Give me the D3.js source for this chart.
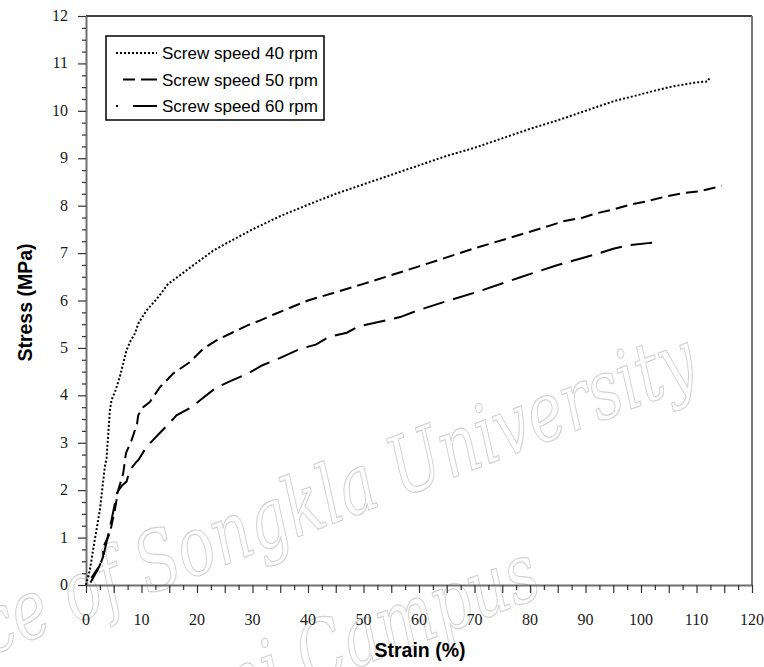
<!DOCTYPE html>
<html>
<head>
<meta charset="utf-8">
<script src="https://cdn.jsdelivr.net/npm/d3@7"></script>
<style>
  html, body { margin: 0; padding: 0; background: #fff; }
  svg { display: block; }
</style>
</head>
<body>
<svg id="chart" width="764" height="667"></svg>
<script>
// Stress-strain curves for three screw speeds
const seriesNames = ["Screw speed 40 rpm", "Screw speed 50 rpm", "Screw speed 60 rpm"];

const strain40 = [0, 0.7, 1.5, 2.5, 3.4, 3.7, 4.3, 4.6, 5.3, 6.1, 7.3, 7.9, 8.8, 9.4, 10.9, 13, 14.8, 16.9, 19.3, 22.9, 26, 30, 35, 40, 45, 50, 55, 60, 65, 70, 75, 80, 85, 90, 95, 100, 105, 110, 112, 112.5];
const stress40 = [0, 0.32, 0.9, 1.58, 2.5, 2.67, 3.68, 3.9, 4.1, 4.39, 4.95, 5.12, 5.3, 5.51, 5.79, 6.07, 6.35, 6.53, 6.74, 7.05, 7.25, 7.5, 7.78, 8.02, 8.25, 8.45, 8.65, 8.85, 9.05, 9.22, 9.42, 9.62, 9.8, 10.0, 10.2, 10.35, 10.5, 10.6, 10.62, 10.72];

const strain50 = [1.0, 2.5, 3.1, 3.1, 4.3, 5.2, 5.8, 6.7, 7.2, 8.2, 9.2, 9.4, 10.3, 11.5, 13.3, 15.7, 18.7, 21.1, 23.5, 26.5, 29, 31.4, 33.7, 40, 50, 60, 70, 80, 83.6, 86, 89.6, 92, 95, 98, 101, 104, 107.3, 110.3, 113.6, 114.5];
const stress50 = [0.15, 0.42, 0.6, 0.8, 1.09, 1.58, 2.0, 2.35, 2.78, 3.05, 3.4, 3.58, 3.75, 3.86, 4.17, 4.46, 4.7, 4.98, 5.16, 5.33, 5.47, 5.58, 5.7, 6.0, 6.35, 6.72, 7.1, 7.45, 7.58, 7.67, 7.75, 7.84, 7.92, 8.02, 8.09, 8.18, 8.26, 8.3, 8.39, 8.42];

const strain60 = [0.8, 2, 3, 3.7, 4.6, 5.2, 5.6, 6.5, 7.3, 7.9, 9.1, 9.4, 10.9, 11.2, 13.9, 15.7, 16.3, 19, 20.5, 23.2, 25.6, 29.2, 31.7, 35, 38.6, 41.4, 43.7, 47, 49, 52.5, 56.6, 60, 64, 71, 78, 85, 89, 92, 95, 97.4, 101.3, 102];
const stress60 = [0.05, 0.3, 0.55, 0.9, 1.37, 1.72, 1.95, 2.1, 2.18, 2.42, 2.6, 2.63, 2.91, 2.95, 3.28, 3.5, 3.58, 3.75, 3.89, 4.14, 4.28, 4.46, 4.63, 4.79, 4.98, 5.07, 5.23, 5.32, 5.45, 5.54, 5.65, 5.8, 5.95, 6.2, 6.48, 6.75, 6.88, 6.98, 7.09, 7.16, 7.21, 7.22];

const xTickLabels = [0, 10, 20, 30, 40, 50, 60, 70, 80, 90, 100, 110, 120];
const yTickLabels = [0, 1, 2, 3, 4, 5, 6, 7, 8, 9, 10, 11, 12];

const series = [
  { name: seriesNames[0], x: strain40, y: stress40, dash: "2,2" },
  { name: seriesNames[1], x: strain50, y: stress50, dash: "12,6" },
  { name: seriesNames[2], x: strain60, y: stress60, dash: "22,9" }
];

const svg = d3.select("#chart");
const margin = { left: 86, right: 12, top: 16, bottom: 82 };
const W = 764, H = 667;

const x = d3.scaleLinear().domain([0, 120]).range([margin.left, W - margin.right]);
const y = d3.scaleLinear().domain([0, 12]).range([H - margin.bottom, margin.top]);

// watermark (outlined lettering across the plot)
const wm = svg.append("g").attr("fill", "none").attr("stroke", "#d2d2d2").attr("stroke-width", 1.2)
  .style("font-family", "'DejaVu Serif', serif").style("font-style", "italic");
wm.append("text").attr("transform", "translate(702,382) rotate(-21) scale(0.75,1)")
  .attr("text-anchor", "end").style("font-size", "82px").text("Prince of Songkla University");
wm.append("text").attr("transform", "translate(545,595) rotate(-21) scale(0.75,1)")
  .attr("text-anchor", "end").style("font-size", "82px").text("Pattani Campus");

// frame: top and right borders
svg.append("line").attr("x1", x(0)).attr("x2", x(120)).attr("y1", y(12)).attr("y2", y(12))
  .attr("stroke", "#000").attr("stroke-width", 1.5);
svg.append("line").attr("x1", x(120)).attr("x2", x(120)).attr("y1", y(12)).attr("y2", y(0))
  .attr("stroke", "#777").attr("stroke-width", 2);

// x axis with minor ticks every 2.5
const xTicks = d3.range(0, 120.01, 2.5);
const xAxis = svg.append("g").attr("transform", `translate(0,${y(0)})`)
  .call(d3.axisBottom(x).tickValues(xTicks).tickSize(0).tickFormat(() => ""));
xAxis.select(".domain").attr("stroke", "#707070").attr("stroke-width", 2);
xAxis.selectAll(".tick line").attr("y2", d => (d % 5 === 0 ? 8 : 5)).attr("stroke", "#333").attr("stroke-width", 1.2);
svg.append("g").selectAll("text").data(xTickLabels).join("text")
  .attr("x", d => x(d)).attr("y", y(0) + 40).attr("text-anchor", "middle")
  .style("font-family", "'Liberation Serif', 'Times New Roman', serif").style("font-size", "16px")
  .attr("fill", "#1a1a1a").text(d => d);

// y axis with minor ticks every 0.25
const yTicks = d3.range(0, 12.001, 0.25);
const yAxis = svg.append("g").attr("transform", `translate(${x(0)},0)`)
  .call(d3.axisLeft(y).tickValues(yTicks).tickSize(0).tickFormat(() => ""));
yAxis.select(".domain").attr("stroke", "#707070").attr("stroke-width", 2);
yAxis.selectAll(".tick line").attr("x2", d => (Math.abs(d - Math.round(d)) < 1e-6 ? -8 : -4)).attr("stroke", "#333").attr("stroke-width", 1.2);
svg.append("g").selectAll("text").data(yTickLabels).join("text")
  .attr("x", x(0) - 18).attr("y", d => y(d) + 5).attr("text-anchor", "end")
  .style("font-family", "'Liberation Serif', 'Times New Roman', serif").style("font-size", "16px")
  .attr("fill", "#1a1a1a").text(d => d);

// axis titles
svg.append("text").attr("x", (x(0) + x(120)) / 2 + 1).attr("y", 657).attr("text-anchor", "middle")
  .style("font-family", "'Liberation Sans', Arial, sans-serif").style("font-weight", "bold").style("font-size", "19.5px")
  .text("Strain (%)");
svg.append("text").attr("transform", `translate(32,${(y(0) + y(12)) / 2 + 2}) rotate(-90)`).attr("text-anchor", "middle")
  .style("font-family", "'Liberation Sans', Arial, sans-serif").style("font-weight", "bold").style("font-size", "19.5px")
  .text("Stress (MPa)");

// curves
const line = d3.line().x(d => x(d[0])).y(d => y(d[1]));
svg.append("g").selectAll("path").data(series).join("path")
  .attr("d", s => line(s.x.map((v, i) => [v, s.y[i]])))
  .attr("fill", "none").attr("stroke", "#000").attr("stroke-width", 2)
  .attr("stroke-dasharray", s => s.dash);

// legend
const lg = svg.append("g");
lg.append("rect").attr("x", 106).attr("y", 36).attr("width", 218).attr("height", 84)
  .attr("fill", "#fff").attr("stroke", "#000").attr("stroke-width", 1.5);
const legendSwatch = [
  { x1: 116, dash: "2,2" },
  { x1: 123, dash: "12,6,16" },
  { x1: 116, dash: "2,15,24,0" }
];
series.forEach((s, i) => {
  const ly = 53 + i * 26.5;
  lg.append("line").attr("x1", legendSwatch[i].x1).attr("x2", 157).attr("y1", ly).attr("y2", ly)
    .attr("stroke", "#000").attr("stroke-width", 2).attr("stroke-dasharray", legendSwatch[i].dash);
  lg.append("text").attr("x", 162).attr("y", ly + 6)
    .style("font-family", "'Liberation Sans', Arial, sans-serif").style("font-size", "17px")
    .text(s.name);
});
</script>
</body>
</html>
